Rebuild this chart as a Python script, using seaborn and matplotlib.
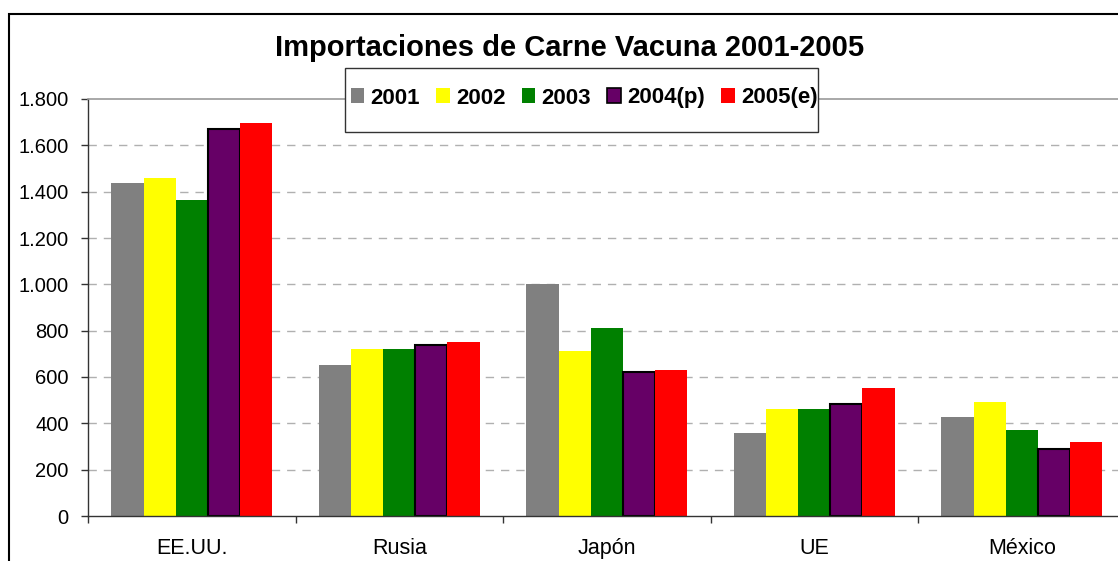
import pandas as pd
import matplotlib
matplotlib.use("Agg")
import matplotlib.pyplot as plt
import seaborn as sns
from matplotlib.patches import Rectangle
from matplotlib.ticker import FuncFormatter, FixedLocator

# data
regions = ["EE.UU.", "Rusia", "Japón", "UE", "México"]
years = ["2001", "2002", "2003", "2004(p)", "2005(e)"]
v2001 = [1437, 653, 1002, 358, 428]
v2002 = [1459, 722, 713, 462, 492]
v2003 = [1364, 722, 812, 462, 371]
v2004 = [1670, 736, 622, 484, 289]
v2005 = [1696, 752, 631, 552, 319]
colors = ["#808080", "#FFFF00", "#008000", "#660066", "#FF0000"]

W, H = 1118, 561


def build_frame():
    rows = []
    for year, vals in zip(years, [v2001, v2002, v2003, v2004, v2005]):
        for reg, v in zip(regions, vals):
            rows.append({"Region": reg, "Year": year, "Value": v})
    return pd.DataFrame(rows)


def main():
    sns.set_theme(style="white")
    plt.rcParams["font.family"] = ["Liberation Sans", "DejaVu Sans"]
    plt.rcParams["text.color"] = "black"
    plt.rcParams["xtick.labelcolor"] = "black"
    plt.rcParams["ytick.labelcolor"] = "black"

    df = build_frame()
    fig = plt.figure(figsize=(W / 100, H / 100), dpi=100)
    ax = fig.add_axes([88 / W, (H - 516) / H, 1037.5 / W, (516 - 99) / H])

    sns.barplot(data=df, x="Region", y="Value", hue="Year", order=regions,
                hue_order=years, palette=colors, width=0.775, gap=0,
                saturation=1, linewidth=0, ax=ax, legend=True)

    # only the 2004(p) bars carry a black outline
    for bar in ax.containers[3]:
        bar.set_edgecolor("black")
        bar.set_linewidth(1.5)

    ax.set_xlim(-0.5, 4.5)
    ax.set_ylim(0, 1800)
    ax.set_xlabel("")
    ax.set_ylabel("")

    ax.yaxis.set_major_locator(FixedLocator(range(0, 2000, 200)))
    ax.yaxis.set_major_formatter(FuncFormatter(lambda v, p: f"{int(v):,}".replace(",", ".")))
    ax.tick_params(axis="y", which="major", direction="out", length=5, width=1,
                   color="#333333", labelsize=14.5, pad=9, left=True,
                   labelcolor="black")
    ax.tick_params(axis="x", which="major", length=0, labelsize=15.5, pad=16,
                   labelcolor="black")
    ax.xaxis.set_minor_locator(FixedLocator([-0.5, 0.5, 1.5, 2.5, 3.5, 4.5]))
    ax.tick_params(axis="x", which="minor", direction="out", length=5, width=1,
                   color="#333333", bottom=True)

    for y in range(200, 1800, 200):
        ax.axhline(y, color="#b0b0b0", lw=1, ls=(0, (6, 5)), zorder=0)

    for side in ["left", "bottom"]:
        ax.spines[side].set_color("#333333")
        ax.spines[side].set_linewidth(1)
    ax.spines["top"].set_color("#999999")
    ax.spines["top"].set_linewidth(1.2)
    ax.spines["right"].set_visible(False)

    # legend in a boxed row under the title
    handles, labels = ax.get_legend_handles_labels()
    ax.get_legend().remove()
    for i, h in enumerate(handles):
        h.set_edgecolor("black" if i == 3 else "none")
        h.set_linewidth(1.2)
    fig.patches.append(Rectangle((345 / W, (H - 132) / H), 473 / W, 64 / H,
                                 transform=fig.transFigure, facecolor="white",
                                 edgecolor="#333333", lw=1, zorder=5))
    leg = fig.legend(handles, labels, loc="center", ncol=5,
                     bbox_to_anchor=(584 / W, (H - 98) / H), frameon=False,
                     prop={"weight": "bold", "size": 16}, handlelength=0.62,
                     handleheight=0.62, handletextpad=0.28, columnspacing=0.72)
    leg.set_zorder(6)

    fig.text(570 / W, (H - 48) / H, "Importaciones de Carne Vacuna 2001-2005",
             ha="center", va="center", fontsize=21, fontweight="bold",
             color="black")

    # outer chart border (cut off at right and bottom)
    fig.patches.append(Rectangle((8.5 / W, -0.1), 1.2, (H - 13.5) / H + 0.1,
                                 transform=fig.transFigure, facecolor="none",
                                 edgecolor="black", lw=1.5, zorder=10))

    fig.savefig("out.png", dpi=100)
    plt.close(fig)


if __name__ == "__main__":
    main()
